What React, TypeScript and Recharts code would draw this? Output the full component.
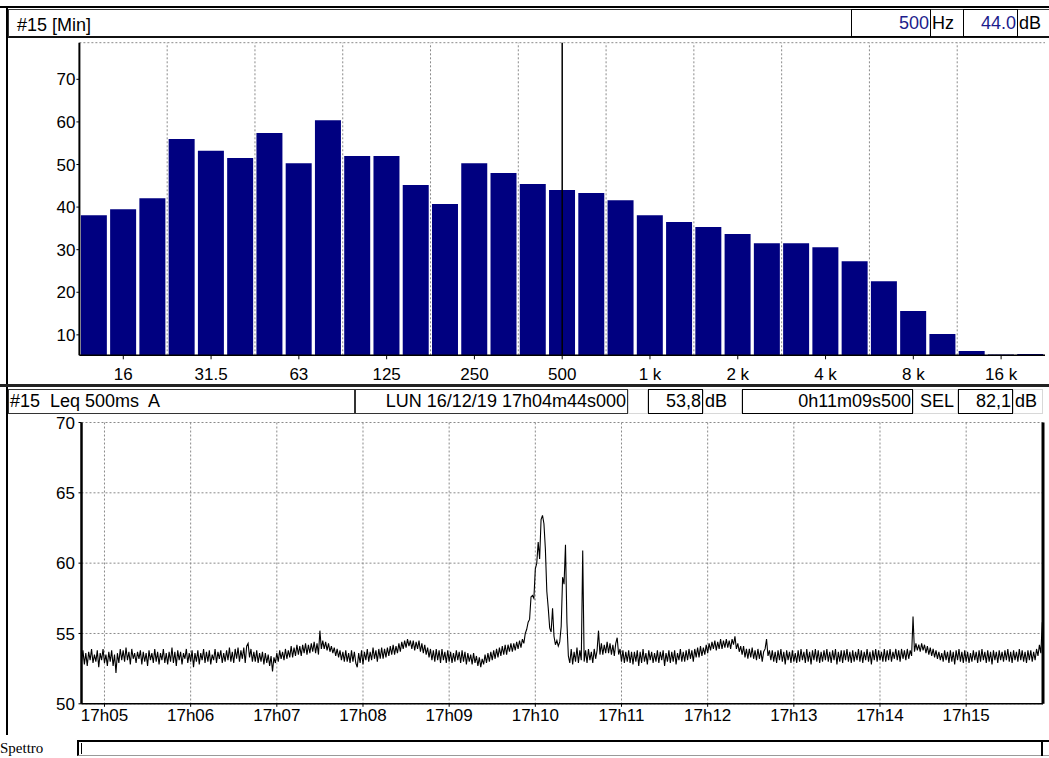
import React from "react";
import {
  BarChart, Bar, LineChart, Line, XAxis, YAxis, CartesianGrid, ReferenceLine,
} from "recharts";

/* ── spectrum (third-octave bands, Min) ── */
const bands = [
  "12.5", "16", "20", "25", "31.5", "40", "50", "63", "80", "100", "125",
  "160", "200", "250", "315", "400", "500", "630", "800", "1 k", "1.25 k",
  "1.6 k", "2 k", "2.5 k", "3.15 k", "4 k", "5 k", "6.3 k", "8 k", "10 k",
  "12.5 k", "16 k", "20 k",
];
const minLevels = [
  38.1, 39.5, 42.1, 56.0, 53.2, 51.5, 57.4, 50.3, 60.4, 52.0, 52.0,
  45.2, 40.7, 50.3, 48.0, 45.4, 44.0, 43.3, 41.6, 38.1, 36.5,
  35.3, 33.7, 31.5, 31.5, 30.6, 27.3, 22.6, 15.6, 10.2,
  6.2, 5.4, 5.5,
];
const octaveLabels = ["16", "31.5", "63", "125", "250", "500", "1 k", "2 k", "4 k", "8 k", "16 k"];
const octaveEdges = [3, 6, 9, 12, 15, 18, 21, 24, 27, 30];
const spectrumTicks = [10, 20, 30, 40, 50, 60, 70];

/* ── Leq 500ms A time history, one value per second from 17h04m44s ── */
const startSec = 284; // seconds after 17h00
const endSec = 953.5;
const leq = [
  53.0, 53.8, 52.8, 53.6, 52.7, 53.7, 53.1, 53.9, 52.9, 53.5, 53.0, 53.8, 52.6, 53.6, 53.1, 53.9, 52.9, 53.5, 52.7, 53.7,
  53.0, 53.8, 52.7, 53.5, 52.2, 53.6, 52.9, 53.9, 53.1, 53.8, 53.0, 54.0, 53.1, 53.7, 52.8, 53.9, 53.2, 53.6, 52.9, 53.7,
  53.2, 53.8, 52.8, 53.7, 53.0, 53.6, 52.7, 53.8, 53.1, 53.6, 52.9, 53.9, 53.0, 53.7, 52.8, 53.6, 53.1, 53.9, 52.9, 53.6,
  52.8, 53.7, 53.0, 54.0, 52.9, 53.7, 52.7, 53.8, 53.1, 53.7, 52.8, 53.6, 53.2, 53.9, 52.9, 53.6, 53.0, 53.8, 52.6, 53.6,
  53.0, 53.8, 52.8, 53.6, 53.1, 53.9, 52.9, 53.7, 53.0, 53.8, 52.8, 53.5, 53.1, 53.9, 52.9, 53.7, 53.2, 53.8, 52.9, 53.6,
  53.0, 53.8, 53.1, 54.0, 53.0, 53.7, 52.9, 53.9, 53.2, 54.0, 53.0, 53.8, 53.2, 54.0, 52.9, 54.1, 54.3, 53.3, 53.9, 53.0,
  53.7, 53.0, 53.8, 52.9, 53.6, 53.0, 53.7, 52.8, 53.6, 52.9, 53.5, 52.7, 53.4, 52.3, 53.3, 52.9, 53.6, 53.0, 53.8, 53.2,
  53.7, 53.1, 53.9, 53.2, 53.8, 53.3, 54.1, 53.3, 54.0, 53.4, 54.2, 53.5, 54.1, 53.4, 54.2, 53.6, 54.3, 53.5, 54.2, 53.6,
  54.3, 53.7, 54.4, 53.6, 54.3, 53.5, 55.2, 53.9, 54.5, 53.9, 54.4, 53.8, 54.3, 53.7, 54.1, 53.6, 54.0, 53.4, 53.9, 53.3,
  53.8, 53.1, 53.7, 53.0, 53.8, 53.0, 53.6, 52.9, 53.8, 53.0, 53.7, 52.9, 52.6, 53.6, 52.9, 53.8, 52.8, 53.7, 53.1, 53.9,
  53.0, 53.7, 53.1, 54.0, 53.2, 53.8, 53.0, 53.9, 53.2, 54.0, 53.2, 53.9, 53.3, 54.0, 53.4, 54.1, 53.5, 54.2, 53.5, 54.1,
  53.6, 54.3, 53.7, 54.4, 53.9, 54.5, 54.0, 54.6, 54.1, 54.5, 53.9, 54.5, 53.8, 54.4, 53.9, 54.5, 53.7, 54.3, 53.6, 54.2,
  53.5, 54.0, 53.3, 53.9, 53.1, 53.8, 53.0, 53.9, 53.1, 53.8, 52.9, 53.9, 53.1, 53.7, 52.9, 53.8, 53.0, 53.7, 52.9, 53.6,
  53.0, 53.8, 53.1, 53.7, 52.9, 53.8, 53.0, 53.7, 52.8, 53.6, 53.0, 53.5, 52.8, 53.6, 52.9, 53.4, 52.7, 53.3, 52.6, 53.2,
  52.8, 53.5, 52.9, 53.6, 53.0, 53.7, 53.1, 53.8, 53.2, 53.9, 53.3, 54.0, 53.4, 54.1, 53.5, 54.2, 53.5, 54.2, 53.7, 54.3,
  53.7, 54.3, 53.8, 54.4, 53.9, 54.5, 54.0, 54.6, 54.3, 55.0, 55.3, 55.8, 56.0, 57.6, 57.7, 57.5, 59.6, 60.0, 61.5, 60.3,
  63.1, 63.4, 62.8, 61.0, 58.0, 56.8, 55.4, 55.1, 56.8, 54.8, 54.2, 54.5, 54.1, 54.4, 55.5, 59.0, 58.5, 61.3, 55.8, 53.4,
  52.9, 53.9, 52.8, 53.7, 53.0, 54.0, 52.9, 53.8, 53.1, 60.9, 53.0, 53.8, 52.9, 53.9, 53.1, 53.7, 52.9, 53.9, 53.2, 53.8,
  55.2, 53.5, 54.3, 53.5, 54.2, 53.6, 54.4, 53.6, 54.3, 53.5, 54.2, 53.4, 54.3, 54.7, 53.5, 53.9, 53.0, 53.8, 52.9, 53.7,
  53.0, 53.8, 52.9, 53.7, 52.8, 53.7, 53.0, 53.8, 52.7, 53.7, 52.9, 53.9, 53.0, 53.6, 52.8, 53.8, 53.1, 53.7, 52.9, 53.6,
  53.0, 53.8, 52.9, 53.7, 53.1, 53.8, 52.7, 53.6, 53.0, 53.8, 52.9, 53.7, 53.0, 53.8, 52.8, 53.6, 53.1, 53.9, 53.0, 53.7,
  53.0, 53.8, 53.1, 53.9, 53.2, 53.8, 53.0, 53.9, 53.3, 54.0, 53.3, 54.1, 53.4, 54.0, 53.5, 54.2, 53.6, 54.3, 53.8, 54.4,
  53.9, 54.5, 53.8, 54.4, 53.9, 54.6, 53.9, 54.5, 54.0, 54.6, 54.0, 54.5, 53.9, 54.6, 54.2, 54.8, 53.9, 54.3, 53.7, 54.1,
  53.5, 54.1, 53.3, 53.9, 53.2, 53.9, 53.3, 54.0, 53.2, 53.8, 53.1, 53.9, 53.2, 53.8, 53.0, 53.7, 53.9, 54.6, 53.4, 53.8,
  53.1, 53.8, 53.0, 53.7, 52.9, 53.8, 53.1, 53.9, 53.0, 53.7, 52.8, 53.8, 53.1, 53.7, 52.9, 53.8, 53.0, 53.6, 52.9, 53.8,
  53.0, 53.9, 53.1, 53.7, 52.9, 53.9, 53.0, 53.7, 52.8, 53.8, 53.1, 53.9, 53.0, 53.8, 52.9, 53.7, 53.0, 53.8, 53.1, 53.9,
  53.0, 53.7, 52.9, 53.8, 53.1, 53.9, 52.8, 53.7, 53.0, 53.8, 52.9, 53.8, 53.1, 53.9, 53.0, 53.7, 52.9, 53.8, 53.0, 53.7,
  53.1, 53.9, 53.0, 53.8, 52.9, 53.7, 53.1, 53.9, 53.0, 53.7, 52.8, 53.8, 53.1, 53.9, 53.0, 53.8, 53.1, 53.7, 53.0, 53.9,
  53.0, 53.8, 53.1, 53.9, 53.0, 53.7, 53.2, 53.9, 53.1, 53.8, 53.0, 53.9, 53.2, 53.8, 53.1, 53.9, 53.2, 53.8, 53.4, 56.2,
  53.7, 54.3, 53.8, 54.2, 53.7, 54.3, 53.8, 54.2, 53.6, 54.1, 53.5, 54.0, 53.4, 53.9, 53.3, 53.8, 53.2, 53.7, 53.1, 53.6,
  53.0, 53.8, 53.1, 53.7, 52.9, 53.8, 53.0, 53.7, 52.8, 53.8, 53.1, 53.9, 53.0, 53.7, 52.9, 53.8, 53.0, 53.7, 52.9, 53.6,
  53.0, 53.8, 53.1, 53.7, 52.9, 53.8, 53.0, 53.9, 53.1, 53.7, 52.9, 53.8, 53.0, 53.7, 52.8, 53.8, 53.1, 53.7, 52.9, 53.8,
  53.1, 53.7, 53.0, 53.8, 53.1, 53.9, 53.0, 53.7, 52.9, 53.8, 53.1, 53.7, 53.0, 53.9, 53.1, 53.8, 53.0, 53.7, 52.9, 53.8,
  53.1, 53.8, 53.0, 53.7, 53.1, 53.9, 53.4, 54.2, 53.6, 55.8,
];
const timeTicks = [300, 360, 420, 480, 540, 600, 660, 720, 780, 840, 900];
const timeLabels = ["17h05", "17h06", "17h07", "17h08", "17h09", "17h10", "17h11", "17h12", "17h13", "17h14", "17h15"];
const leqTicks = [50, 55, 60, 65, 70];

const FONT = '"Liberation Sans", Arial, sans-serif';
const tickStyle = { fill: "#000", fontSize: 17, fontFamily: FONT };
const NAVY = "#000080";
const VALUE_BLUE = "#1c1c8c";
const GRID = "#8a8a8a";

type CellProps = {
  left: number; top: number; width: number; height: number;
  text?: string; align?: "left" | "right"; color?: string; border?: string;
};

function Cell({ left, top, width, height, text, align = "right", color = "#000", border = "1px solid #000" }: CellProps) {
  return (
    <div
      style={{
        position: "absolute", left, top, width, height, boxSizing: "border-box",
        border, display: "flex", alignItems: "center",
        justifyContent: align === "right" ? "flex-end" : "flex-start",
        paddingLeft: align === "left" ? 1 : 0, paddingRight: align === "right" ? 1 : 0,
        background: "#fff", fontFamily: FONT, fontSize: 18, lineHeight: 1, color, whiteSpace: "pre",
      }}
    >
      {text}
    </div>
  );
}

function Label({ left, top, width, height, text }: { left: number; top: number; width: number; height: number; text: string }) {
  return <Cell left={left} top={top} width={width} height={height} text={text} align="left" border="1px solid #d8d8d8" />;
}

export default function App() {
  const bandData = bands.map((band, i) => ({ band, level: minLevels[i] }));
  const edgeData = octaveEdges.map((edge) => ({ edge }));
  const leqData = leq.map((v, i) => ({ t: startSec + i, v }));
  const fmtTime = (t: number) => timeLabels[timeTicks.indexOf(t)] ?? "";
  const spectrumMargin = { top: 42.7, right: 4, bottom: 14.7, left: 0 };

  return (
    <div style={{ position: "absolute", left: 0, top: 0, width: 1049, height: 758, background: "#fff", overflow: "hidden" }}>
      {/* spectrum grid: octave-band edges, drawn under the bars */}
      <div style={{ position: "absolute", left: 0, top: 0 }}>
        <LineChart width={1049} height={400} data={edgeData} margin={spectrumMargin}>
          <CartesianGrid stroke={GRID} strokeDasharray="2 2" vertical={false} />
          <XAxis dataKey="edge" type="number" domain={[0, 33]} ticks={octaveEdges} height={30}
            tick={false} tickLine={false} axisLine={false} />
          <YAxis domain={[5.2, 78.6]} ticks={spectrumTicks} allowDataOverflow width={79.4}
            tick={false} tickLine={false} axisLine={false} />
          {octaveEdges.map((e) => (
            <ReferenceLine key={e} x={e} stroke={GRID} strokeDasharray="2 2" />
          ))}
        </LineChart>
      </div>

      {/* spectrum */}
      <div style={{ position: "absolute", left: 0, top: 0 }}>
        <BarChart width={1049} height={400} data={bandData} margin={spectrumMargin} barCategoryGap="5%">
          <XAxis dataKey="band" ticks={octaveLabels} interval={0} height={30}
            tickSize={4} tickMargin={9} tick={tickStyle}
            axisLine={{ stroke: "#000", strokeWidth: 1.5 }} tickLine={{ stroke: "#000" }} />
          <XAxis xAxisId="top" dataKey="band" orientation="top" height={0}
            tick={false} tickLine={false} axisLine={{ stroke: "#333", strokeWidth: 1.5 }} />
          <YAxis domain={[5.2, 78.6]} ticks={spectrumTicks} allowDataOverflow width={79.4}
            tickSize={3} tickMargin={1} tick={tickStyle}
            axisLine={{ stroke: "#000", strokeWidth: 2 }} tickLine={{ stroke: "#000" }} />
          <Bar dataKey="level" fill={NAVY} isAnimationActive={false} />
          <ReferenceLine x="500" stroke="#000" strokeWidth={1.5} />
        </BarChart>
      </div>

      {/* time history */}
      <div style={{ position: "absolute", left: 0, top: 0 }}>
        <LineChart width={1049} height={758} data={leqData}
          margin={{ top: 422.5, right: 5, bottom: 24.2, left: 0 }}>
          <CartesianGrid stroke={GRID} strokeDasharray="2 2" />
          <XAxis dataKey="t" type="number" domain={[startSec, endSec]} ticks={timeTicks}
            allowDataOverflow tickFormatter={fmtTime} height={30}
            tickSize={3} tickMargin={2} tick={tickStyle}
            axisLine={{ stroke: "#000", strokeWidth: 1.5 }} tickLine={{ stroke: "#000" }} />
          <XAxis xAxisId="top" type="number" domain={[startSec, endSec]} orientation="top" height={0}
            tick={false} tickLine={false} axisLine={{ stroke: "#000", strokeWidth: 2 }} />
          <YAxis domain={[50, 70]} ticks={leqTicks} allowDataOverflow width={81.5}
            tickSize={3} tickMargin={3.5} tick={tickStyle}
            axisLine={{ stroke: "#000", strokeWidth: 2.5 }} tickLine={{ stroke: "#000" }} />
          <YAxis yAxisId="right" orientation="right" width={1} domain={[50, 70]}
            tick={false} tickLine={false} axisLine={{ stroke: "#000", strokeWidth: 3 }} />
          <Line dataKey="v" type="linear" stroke="#000" strokeWidth={1.1} dot={false} isAnimationActive={false} />
        </LineChart>
      </div>

      {/* frame */}
      <div style={{ position: "absolute", left: 0, top: 6, width: 1049, height: 2, background: "#000" }} />
      <div style={{ position: "absolute", left: 6, top: 6, width: 2, height: 729, background: "#000" }} />

      {/* spectrum header */}
      <div style={{ position: "absolute", left: 8, top: 9, width: 1045, height: 29, boxSizing: "border-box",
        borderTop: "1px solid #333", borderLeft: "1px solid #333", borderBottom: "2px solid #111" }} />
      <div style={{ position: "absolute", left: 17, top: 13, fontFamily: FONT, fontSize: 18, lineHeight: "24px" }}>#15 [Min]</div>
      <Cell left={851} top={9} width={80} height={28} text="500" color={VALUE_BLUE} />
      <div style={{ position: "absolute", left: 932, top: 9, height: 28, display: "flex", alignItems: "center",
        fontFamily: FONT, fontSize: 18, lineHeight: 1 }}>Hz</div>
      <Cell left={963} top={9} width={55} height={28} text="44.0" color={VALUE_BLUE} />
      <div style={{ position: "absolute", left: 1019, top: 9, height: 28, display: "flex", alignItems: "center",
        fontFamily: FONT, fontSize: 18, lineHeight: 1 }}>dB</div>

      {/* time history header */}
      <div style={{ position: "absolute", left: 0, top: 384, width: 1049, height: 3, background: "#222" }} />
      <Cell left={8} top={388.5} width={347} height={25} text="#15  Leq 500ms  A" align="left" border="1px solid #333" />
      <Cell left={355} top={388.5} width={273} height={25} text="LUN 16/12/19 17h04m44s000" border="1px solid #333" />
      <Label left={628} top={388.5} width={20} height={25} text="" />
      <Cell left={648} top={388.5} width={55} height={25} text="53,8" />
      <Label left={703} top={388.5} width={39} height={25} text="dB" />
      <Cell left={742} top={388.5} width={171} height={25} text="0h11m09s500" />
      <Label left={913} top={388.5} width={45} height={25} text=" SEL" />
      <Cell left={958} top={388.5} width={55} height={25} text="82,1" />
      <Label left={1013} top={388.5} width={30} height={25} text="dB" />

      {/* spectrum selector */}
      <div style={{ position: "absolute", left: 0, top: 739, fontFamily: '"Liberation Serif", "Times New Roman", serif',
        fontSize: 15, lineHeight: "18px" }}>Spettro</div>
      <div style={{ position: "absolute", left: 77, top: 740, width: 980, height: 16, boxSizing: "border-box",
        borderTop: "2px solid #000", borderLeft: "2px solid #000", borderBottom: "1px solid #999" }} />
      <div style={{ position: "absolute", left: 81, top: 743, width: 1, height: 11, background: "#000" }} />
      <div style={{ position: "absolute", left: 1041, top: 742, width: 2, height: 14, background: "#000" }} />
    </div>
  );
}
